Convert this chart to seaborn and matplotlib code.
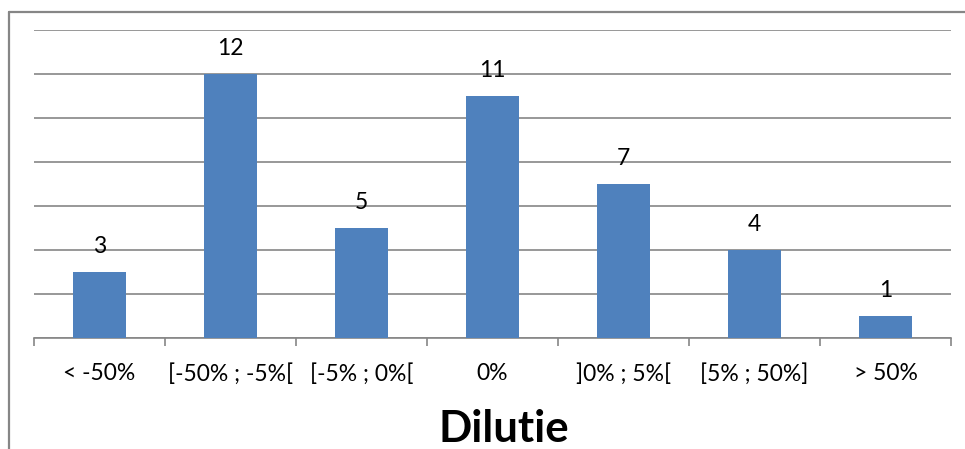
import matplotlib
matplotlib.use("Agg")
import matplotlib.pyplot as plt
import seaborn as sns
import pandas as pd
from matplotlib.lines import Line2D

categories = ["< -50%", "[-50% ; -5%[", "[-5% ; 0%[", "0%", "]0% ; 5%[", "[5% ; 50%]", "> 50%"]
counts = [3, 12, 5, 11, 7, 4, 1]

df = pd.DataFrame({"category": categories, "count": counts})

sns.set_theme(style="white")
plt.rcParams["font.family"] = ["Lato", "DejaVu Sans"]

W, H = 965, 449
fig = plt.figure(figsize=(W / 100, H / 100), dpi=100)
fig.patch.set_facecolor("white")

x0, x1, ytop, ybot = 34, 951, 30, 338
ax = fig.add_axes([x0 / W, (H - ybot) / H, (x1 - x0) / W, (ybot - ytop) / H])

sns.barplot(data=df, x="category", y="count", color="#4F81BD", saturation=1,
            width=0.4, ax=ax, zorder=3, linewidth=0, edgecolor="none")

ax.set_ylim(0, 14)
ax.set_xlim(-0.5, len(categories) - 0.5)
ax.set_yticks(range(0, 15, 2))
ax.yaxis.grid(True, color="#868686", linewidth=1.2)
ax.set_axisbelow(True)
ax.tick_params(axis="y", left=False, labelleft=False)

for s in ["top", "right", "left"]:
    ax.spines[s].set_visible(False)
ax.spines["bottom"].set_color("#868686")
ax.spines["bottom"].set_linewidth(1.2)

# category labels centred, tick marks between categories
ax.set_xticks(range(len(categories)))
ax.set_xticklabels(categories, fontsize=16.5, color="black")
ax.tick_params(axis="x", which="major", length=0, pad=18)
ax.set_xticks([i - 0.5 for i in range(len(categories) + 1)], minor=True)
ax.tick_params(axis="x", which="minor", length=5.5, width=1.2, color="#868686", bottom=True)

ax.set_xlabel("Dilutie", fontsize=31.5, fontweight="bold", color="black")
ax.xaxis.set_label_coords(0.512, -0.232)
ax.set_ylabel("")

for i, v in enumerate(counts):
    ax.text(i, v + 0.68, str(v), ha="center", va="bottom", fontsize=16.5, color="black")

# chart area border (left and top edges)
fx = 8.5 / W
fy = (H - 12) / H
fig.add_artist(Line2D([fx, fx], [-0.05, fy], transform=fig.transFigure,
                      color="#868686", linewidth=1.6))
fig.add_artist(Line2D([fx, 1.05], [fy, fy], transform=fig.transFigure,
                      color="#868686", linewidth=1.6))

fig.savefig("out.png", dpi=100, facecolor="white")
